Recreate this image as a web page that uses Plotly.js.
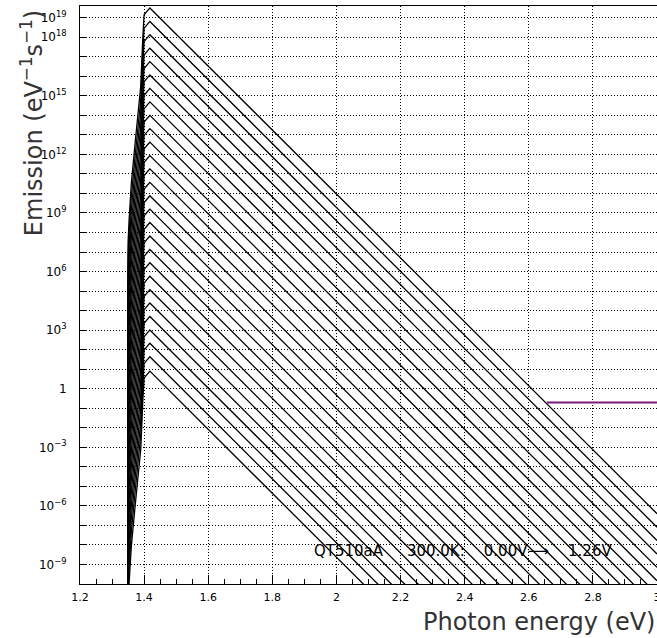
<!DOCTYPE html>
<html><head><meta charset="utf-8">
<script src="https://cdn.plot.ly/plotly-3.0.1.min.js"></script>
<style>html,body{margin:0;padding:0;background:#fff;overflow:hidden}#chart{width:657px;height:638px}</style>
</head><body><div id="chart"></div>
<script>
// Shared energy nodes (eV) of every emission curve
const energyNodes = [1.349, 1.350, 1.353, 1.360, 1.372, 1.380, 1.3895, 1.396, 1.400, 1.410, 1.418, 3.0];
// Curve shape: log10(emission) relative to the curve's peak
const edgeShapeLog = [-40, -12, -10.9, -9.0, -6.9, -5.6, -4.0, -1.5, -0.35, -0.15, 0, -25.9];
// log10 of the peak emission of each curve (bias 1.26 V at top down to 0.00 V)
const peakLog = [19.50, 18.81, 18.13, 17.44, 16.75, 16.07, 15.38, 14.69, 14.00, 13.32,
                 12.63, 11.94, 11.26, 10.57, 9.88, 9.20, 8.51, 7.82, 7.13, 6.45,
                 5.76, 5.07, 4.39, 3.70, 3.01, 2.33, 1.64, 0.90];
// Purple reference segment
const refX = [2.656, 3.0];
const refY = [0.2, 0.2];
// Axis ticks
const xTickVals = [1.2, 1.4, 1.6, 1.8, 2.0, 2.2, 2.4, 2.6, 2.8, 3.0];
const xTickText = ['1.2', '1.4', '1.6', '1.8', '2', '2.2', '2.4', '2.6', '2.8', '3'];
const yDecades = [-9,-8,-7,-6,-5,-4,-3,-2,-1,0,1,2,3,4,5,6,7,8,9,10,11,12,13,14,15,16,17,18,19];
const yLabelled = [19, 18, 15, 12, 9, 6, 3, 0, -3, -6, -9];

const traces = peakLog.map(p => ({
  type: 'scatter', mode: 'lines',
  x: energyNodes,
  y: edgeShapeLog.map(s => Math.pow(10, p + s)),
  line: {color: '#000', width: 1.3},
  hoverinfo: 'skip'
}));
traces.push({type: 'scatter', mode: 'lines', x: refX, y: refY,
  line: {color: '#7a1a7a', width: 2}, hoverinfo: 'skip'});

const yTickVals = yLabelled.map(d => Math.pow(10, d));
const yTickText = yLabelled.map(d => d === 0 ? '1' : '10<sup>' + (d < 0 ? '\u2212' + (-d) : d) + '</sup>');
const yGridVals = yDecades.map(d => Math.pow(10, d));

const fontFam = 'DejaVu Sans, Verdana, sans-serif';
const gridStyle = {gridcolor: '#000', gridwidth: 1, griddash: '1px,2px'};
const layout = {
  width: 657, height: 638,
  margin: {l: 80, r: 0, t: 6, b: 54},
  paper_bgcolor: '#fff', plot_bgcolor: '#fff',
  showlegend: false, hovermode: false,
  font: {family: fontFam, color: '#000'},
  xaxis: Object.assign({
    type: 'linear', range: [1.2, 3.0],
    tickmode: 'array', tickvals: xTickVals, ticktext: xTickText,
    ticks: 'inside', ticklen: 9, tickwidth: 1, tickcolor: '#000',
    minor: {dtick: 0.05, tick0: 1.2, ticks: 'inside', ticklen: 5, tickcolor: '#000', showgrid: false},
    showline: true, linecolor: '#000', linewidth: 1, mirror: true,
    showgrid: true, zeroline: false,
    ticklabeloverflow: 'allow',
    tickfont: {family: fontFam, size: 11, color: '#000'},
    ticklabelstandoff: 3
  }, gridStyle),
  yaxis: Object.assign({
    type: 'log', range: [-10, 19.6],
    tickmode: 'array', tickvals: yTickVals, ticktext: yTickText,
    ticks: 'inside', ticklen: 7, tickwidth: 1, tickcolor: '#000',
    minor: Object.assign({tickmode: 'array', tickvals: yGridVals, ticks: 'inside', ticklen: 7,
      tickcolor: '#000', showgrid: true}, gridStyle),
    showline: true, linecolor: '#000', linewidth: 1, mirror: true,
    showgrid: true, zeroline: false,
    tickfont: {family: fontFam, size: 12, color: '#000'},
    ticklabelstandoff: 10
  }, gridStyle),
  annotations: [
    {xref: 'paper', yref: 'paper', x: 1.0, y: -0.065, xanchor: 'right', yanchor: 'middle',
     text: 'Photon energy (eV)', showarrow: false,
     font: {family: fontFam, size: 24, color: '#333'}},
    {xref: 'paper', yref: 'paper', x: -0.083, y: 0.9965, xanchor: 'center', yanchor: 'top',
     textangle: -90, text: 'Emission (eV<sup>\u22121</sup>s<sup>\u22121</sup>)', showarrow: false,
     font: {family: fontFam, size: 24, color: '#333'}},
    {xref: 'x', yref: 'paper', x: 1.2 + (312 - 80) / 320.5, y: (584 - 551) / 578,
     xanchor: 'left', yanchor: 'middle', showarrow: false,
     text: 'QT510aA\u00a0\u00a0\u00a0\u00a0\u00a0300.0K:\u00a0\u00a0\u00a0\u00a00.00V\u27f6\u00a0\u00a0\u00a0\u00a01.26V',
     font: {family: fontFam, size: 15, color: '#000'}}
  ]
};

Plotly.newPlot('chart', traces, layout, {staticPlot: true, displayModeBar: false});
</script>
</body></html>
